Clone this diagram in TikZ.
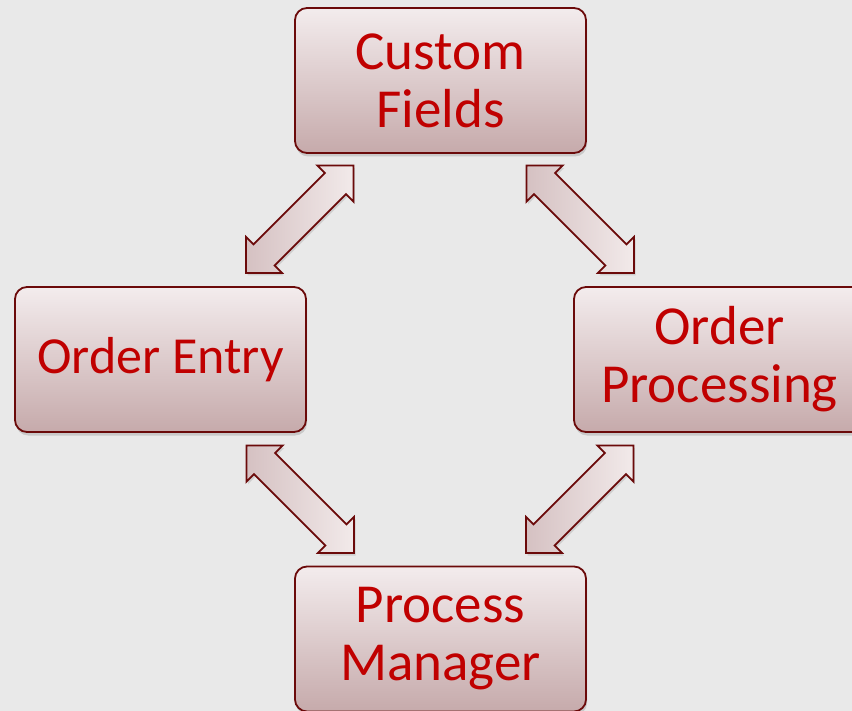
\documentclass[tikz,border=0pt]{standalone}
\usepackage{fontspec}
\setmainfont{Carlito}
\usetikzlibrary{shadows,calc}
\definecolor{bg}{HTML}{E9E9E9}
\definecolor{bord}{HTML}{6B0A0A}
\definecolor{txt}{HTML}{C00000}
\definecolor{boxtop}{HTML}{F3ECED}
\definecolor{boxbot}{HTML}{C6AAAB}
\definecolor{arrlight}{HTML}{F2EAEA}
\definecolor{arrdark}{HTML}{D5C1C2}
\newcommand\dblarr[2]{%
  \begin{scope}[shift={(#1)},rotate=#2]
    \draw[dblarrow] (0,0) -- (25.5,25.5) -- (25.5,15) -- (126.5,15) -- (126.5,25.5)
      -- (152,0) -- (126.5,-25.5) -- (126.5,-15) -- (25.5,-15) -- (25.5,-25.5) -- cycle;
  \end{scope}}
\begin{document}
\begin{tikzpicture}[x=1pt,y=-1pt,
  box/.style={rectangle, rounded corners=12pt, minimum width=291pt, minimum height=145pt,
    draw=bord, line width=1.8pt, top color=boxtop, bottom color=boxbot,
    text=txt, align=center, font=\fontsize{55}{58}\selectfont,
    drop shadow={opacity=0.3, shadow xshift=1pt, shadow yshift=-3.5pt}},
  dblarrow/.style={draw=bord, line width=1.8pt, line join=miter, left color=arrdark, right color=arrlight,
    drop shadow={opacity=0.25, shadow xshift=1.5pt, shadow yshift=-2.5pt}}]
\useasboundingbox (0,0) rectangle (852,711);
\clip (0,0) rectangle (852,711);
\fill[bg] (0,0) rectangle (852,711);
\node[box] (cf) at (440.5,80.5) {Custom\\Fields};
\node[box, font=\fontsize{52}{56}\selectfont] (oe) at (160.5,359.5) {Order Entry};
\node[box] (op) at (719.5,359.5) {Order\\Processing};
\node[box] (pm) at (440.5,639) {Process\\Manager};
\coordinate (a1) at (246,273);
\coordinate (a2) at (634,273);
\coordinate (a3) at (354,553);
\coordinate (a4) at (526,553);
\dblarr{a1}{45}
\dblarr{a2}{135}
\dblarr{a3}{135}
\dblarr{a4}{45}
\end{tikzpicture}
\end{document}
